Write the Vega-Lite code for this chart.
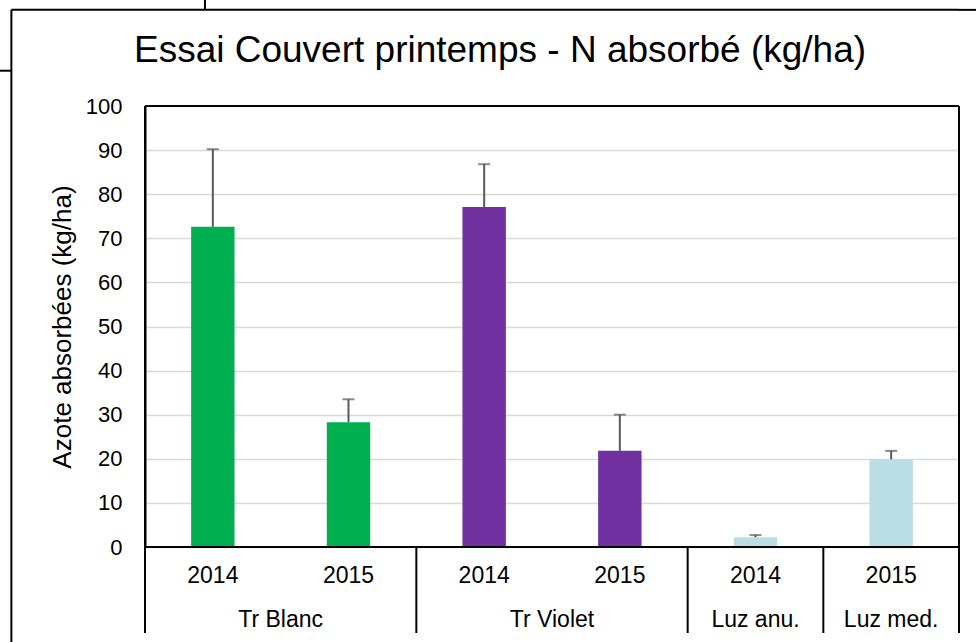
{
  "$schema": "https://vega.github.io/schema/vega-lite/v6.json",
  "width": 814,
  "height": 441,
  "autosize": {"type": "none"},
  "padding": {"left": 145, "top": 106, "right": 17, "bottom": 95},
  "background": "white",
  "config": {"view": {"stroke": null}, "font": "Liberation Sans"},
  "title": {
    "text": "Essai Couvert printemps - N absorbé (kg/ha)",
    "font": "Liberation Sans",
    "fontSize": 37,
    "fontWeight": "normal",
    "color": "black",
    "anchor": "middle",
    "frame": "group",
    "dx": -52,
    "offset": -104,
    "baseline": "alphabetic"
  },
  "datasets": {
    "bars": [
      {"cat": "Tr Blanc 2014", "group": "Tr Blanc", "year": "2014", "value": 72.6, "upper": 90.2},
      {"cat": "Tr Blanc 2015", "group": "Tr Blanc", "year": "2015", "value": 28.3, "upper": 33.5},
      {"cat": "Tr Violet 2014", "group": "Tr Violet", "year": "2014", "value": 77.1, "upper": 86.8},
      {"cat": "Tr Violet 2015", "group": "Tr Violet", "year": "2015", "value": 21.8, "upper": 30.0},
      {"cat": "Luz anu. 2014", "group": "Luz anu.", "year": "2014", "value": 2.2, "upper": 2.7},
      {"cat": "Luz med. 2015", "group": "Luz med.", "year": "2015", "value": 19.9, "upper": 21.8}
    ],
    "groups2": [
      {"group": "Tr Blanc", "cat": "Tr Blanc 2014"},
      {"group": "Tr Violet", "cat": "Tr Violet 2014"}
    ],
    "groups1": [
      {"group": "Luz anu.", "cat": "Luz anu. 2014"},
      {"group": "Luz med.", "cat": "Luz med. 2015"}
    ],
    "seps": [
      {"cat": "Tr Violet 2014"},
      {"cat": "Luz anu. 2014"},
      {"cat": "Luz med. 2015"}
    ],
    "hlines": [{"level": 0}, {"level": 100}, {"level": 121.8}],
    "first": [{"cat": "Tr Blanc 2014"}],
    "last": [{"cat": "Luz med. 2015"}]
  },
  "layer": [
    {
      "data": {"name": "bars"},
      "mark": {"type": "bar", "width": {"band": 0.32}},
      "encoding": {
        "x": {
          "field": "cat",
          "type": "nominal",
          "sort": null,
          "axis": null,
          "scale": {
            "type": "band",
            "paddingInner": 0,
            "paddingOuter": 0,
            "domain": ["Tr Blanc 2014", "Tr Blanc 2015", "Tr Violet 2014", "Tr Violet 2015", "Luz anu. 2014", "Luz med. 2015"]
          }
        },
        "y": {
          "field": "value",
          "type": "quantitative",
          "scale": {"domain": [0, 100], "nice": false},
          "axis": {
            "title": "Azote absorbées (kg/ha)",
            "values": [0, 10, 20, 30, 40, 50, 60, 70, 80, 90, 100],
            "grid": true,
            "gridColor": "#d9d9d9",
            "gridWidth": 1.5,
            "domain": true,
            "domainColor": "black",
            "domainWidth": 2,
            "ticks": false,
            "tickSize": 0,
            "labelFont": "Liberation Sans",
            "labelFontSize": 22,
            "labelColor": "black",
            "labelPadding": 23,
            "titleFont": "Liberation Sans",
            "titleFontSize": 26,
            "titleFontWeight": "normal",
            "titleColor": "black",
            "titleX": -83,
            "titleY": 220.5,
            "titleAngle": -90,
            "titleAlign": "center",
            "titleBaseline": "middle"
          }
        },
        "color": {
          "field": "group",
          "type": "nominal",
          "legend": null,
          "scale": {
            "domain": ["Tr Blanc", "Tr Violet", "Luz anu.", "Luz med."],
            "range": ["#00b050", "#7030a0", "#b9dfe4", "#b9dfe4"]
          }
        }
      }
    },
    {
      "data": {"name": "bars"},
      "mark": {"type": "rule", "color": "#595959", "strokeWidth": 2},
      "encoding": {
        "x": {"field": "cat", "type": "nominal"},
        "y": {"field": "value", "type": "quantitative"},
        "y2": {"field": "upper"}
      }
    },
    {
      "data": {"name": "bars"},
      "mark": {"type": "tick", "color": "#595959", "size": 12, "thickness": 2, "orient": "horizontal"},
      "encoding": {
        "x": {"field": "cat", "type": "nominal"},
        "y": {"field": "upper", "type": "quantitative"}
      }
    },
    {
      "data": {"name": "bars"},
      "mark": {"type": "text", "fontSize": 23, "color": "black", "baseline": "alphabetic", "align": "center"},
      "encoding": {
        "x": {"field": "cat", "type": "nominal"},
        "y": {"datum": -8.1},
        "text": {"field": "year"}
      }
    },
    {
      "data": {"name": "groups2"},
      "mark": {"type": "text", "fontSize": 23, "color": "black", "baseline": "alphabetic", "align": "center"},
      "encoding": {
        "x": {"field": "cat", "type": "nominal", "bandPosition": 1},
        "y": {"datum": -18.1},
        "text": {"field": "group"}
      }
    },
    {
      "data": {"name": "groups1"},
      "mark": {"type": "text", "fontSize": 23, "color": "black", "baseline": "alphabetic", "align": "center"},
      "encoding": {
        "x": {"field": "cat", "type": "nominal", "bandPosition": 0.5},
        "y": {"datum": -18.1},
        "text": {"field": "group"}
      }
    },
    {
      "data": {"name": "seps"},
      "mark": {"type": "rule", "color": "black", "strokeWidth": 2},
      "encoding": {
        "x": {"field": "cat", "type": "nominal", "bandPosition": 0},
        "y": {"datum": 0},
        "y2": {"datum": -19.5}
      }
    },
    {
      "data": {"name": "first"},
      "mark": {"type": "rule", "color": "black", "strokeWidth": 2},
      "encoding": {
        "x": {"field": "cat", "type": "nominal", "bandPosition": 0},
        "y": {"datum": 100},
        "y2": {"datum": -19.5}
      }
    },
    {
      "data": {"name": "last"},
      "mark": {"type": "rule", "color": "black", "strokeWidth": 2},
      "encoding": {
        "x": {"field": "cat", "type": "nominal", "bandPosition": 1},
        "y": {"datum": 100},
        "y2": {"datum": -19.5}
      }
    },
    {
      "data": {"name": "hlines"},
      "mark": {"type": "rule", "color": "black", "strokeWidth": 2},
      "encoding": {
        "y": {"field": "level", "type": "quantitative"}
      }
    },
    {
      "data": {"name": "first"},
      "mark": {"type": "rule", "color": "black", "strokeWidth": 2},
      "encoding": {
        "x": {"field": "cat", "type": "nominal", "bandPosition": -0.985},
        "y": {"datum": 121.8},
        "y2": {"datum": -25}
      }
    },
    {
      "data": {"name": "first"},
      "mark": {"type": "rule", "color": "black", "strokeWidth": 2},
      "encoding": {
        "x": {"field": "cat", "type": "nominal", "bandPosition": -0.985},
        "x2": {"field": "cat", "bandPosition": 0},
        "y": {"datum": 121.8}
      }
    },
    {
      "data": {"name": "last"},
      "mark": {"type": "rule", "color": "black", "strokeWidth": 2},
      "encoding": {
        "x": {"field": "cat", "type": "nominal", "bandPosition": 1},
        "x2": {"field": "cat", "bandPosition": 1.2},
        "y": {"datum": 121.8}
      }
    },
    {
      "data": {"name": "first"},
      "mark": {"type": "rule", "color": "black", "strokeWidth": 2},
      "encoding": {
        "x": {"field": "cat", "type": "nominal", "bandPosition": -1.1},
        "x2": {"field": "cat", "bandPosition": -0.985},
        "y": {"datum": 108.0}
      }
    },
    {
      "data": {"name": "first"},
      "mark": {"type": "rule", "color": "black", "strokeWidth": 2},
      "encoding": {
        "x": {"field": "cat", "type": "nominal", "bandPosition": 0.442},
        "y": {"datum": 121.8},
        "y2": {"datum": 125}
      }
    }
  ]
}
